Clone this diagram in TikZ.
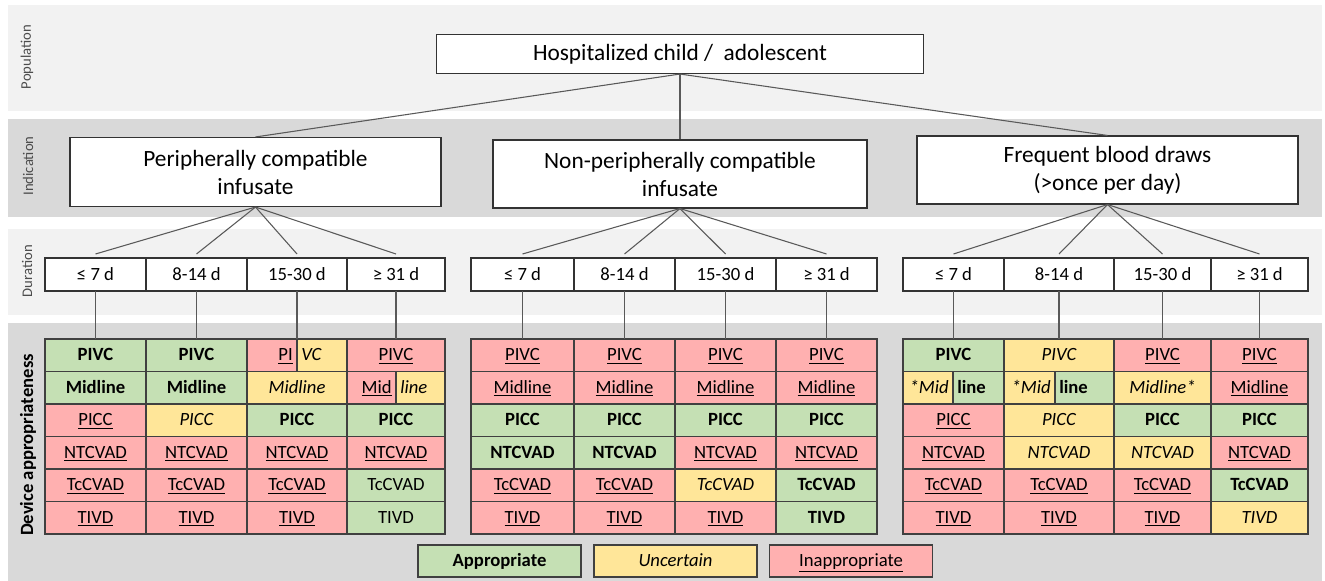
\documentclass[tikz,border=0pt]{standalone}
\usepackage{fontspec}
\setmainfont{Carlito}
\usetikzlibrary{calc}
\definecolor{bandlight}{RGB}{242,242,242}
\definecolor{banddark}{RGB}{217,217,217}
\definecolor{okgreen}{RGB}{197,224,180}
\definecolor{uncyellow}{RGB}{255,230,153}
\definecolor{badpink}{RGB}{255,176,176}
\definecolor{linegray}{RGB}{89,89,89}
\definecolor{gridline}{RGB}{64,64,64}
\newcommand\fmtgood[1]{#1}
\newcommand\fmtplain[1]{#1}
\newcommand\fmtunc[1]{#1}
\newcommand\fmtbad[1]{\underline{#1}}
\newcommand\fmtsplit[1]{}
% one cell of the appropriateness grid: name, left x, right x, row, kind, text
\newcommand\devcell[6]{%
  \pgfmathsetmacro\cx{(#2+#3)/2}%
  \pgfmathsetmacro\cy{339+(#4-0.5)*32.5}%
  \pgfmathsetmacro\cw{#3-#2}%
  \node[cell, cellw=\cw, #5] (#1) at (\cx,\cy) {\csname fmt#5\endcsname{#6}};}

\begin{document}
\begin{tikzpicture}[x=0.75pt, y=-0.75pt,
    box/.style={draw=black!80, fill=white, line width=0.8pt, align=center, inner sep=0pt, font=\fontsize{17.5}{21}\selectfont},
    durbox/.style={draw=black!80, fill=white, line width=0.8pt, inner sep=0pt, outer sep=0pt, minimum height=33*0.75pt, font=\fontsize{14}{16}\selectfont},
    cell/.style={draw=gridline, line width=0.8pt, inner sep=0pt, outer sep=0pt, minimum height=32.5*0.75pt, text height=12pt, text depth=3.5pt, font=\fontsize{14}{16}\selectfont},
    cellw/.style={minimum width=#1*0.75pt},
    good/.style={fill=okgreen, font=\fontsize{14}{16}\selectfont\bfseries},
    plain/.style={fill=okgreen},
    unc/.style={fill=uncyellow, font=\fontsize{14}{16}\selectfont\itshape},
    bad/.style={fill=badpink},
    split/.style={draw=none},
    half/.style={inner xsep=3pt, inner ysep=0pt, text height=12pt, text depth=3.5pt, font=\fontsize{14}{16}\selectfont},
    link/.style={draw=linegray, line width=0.8pt},
    sidelab/.style={rotate=90, text=black!70, font=\fontsize{11}{13}\selectfont}]
  \useasboundingbox (0,0) rectangle (1325,581);

  % bands
  \fill[bandlight] (8,5) rectangle (1322,111);
  \fill[banddark] (8,119) rectangle (1322,217);
  \fill[bandlight] (8,229) rectangle (1322,315);
  \fill[banddark] (8,323) rectangle (1322,581);

  \node[sidelab] (popl) at (27,57) {Population};
  \node[sidelab] (indl) at (28,166) {Indication};
  \node[sidelab] (durl) at (27,271) {Duration};
  \node[rotate=90, font=\fontsize{14}{16}\selectfont\bfseries] (devl) at (28,445) {Device appropriateness};

  % population and indication
  \node[box, minimum width=487*0.75pt, minimum height=39*0.75pt] (pop) at (680,54) {Hospitalized child /\ \ adolescent};
  \node[box, minimum width=371*0.75pt, minimum height=69*0.75pt] (ind1) at (255.5,172) {Peripherally compatible\\infusate};
  \node[box, minimum width=374*0.75pt, minimum height=68*0.75pt] (ind2) at (680,174) {Non-peripherally compatible\\infusate};
  \node[box, minimum width=381*0.75pt, minimum height=68*0.75pt] (ind3) at (1107.5,170) {Frequent blood draws\\(>once per day)};
  \draw[link] (pop.south) -- (ind1.north);
  \draw[link] (pop.south) -- (ind2.north);
  \draw[link] (pop.south) -- (ind3.north);

  % duration
  \foreach \g/\n/\xa/\xb/\xc/\xd/\xe in {L/1/45/146/247/347/445, M/2/471/574/675/776/877, R/3/903/1004/1114/1211/1308} {
    \foreach \c/\l/\r/\t in {1/\xa/\xb/{≤ 7 d}, 2/\xb/\xc/{8-14 d}, 3/\xc/\xd/{15-30 d}, 4/\xd/\xe/{≥ 31 d}} {
      \pgfmathsetmacro\xm{(\l+\r)/2}
      \pgfmathsetmacro\w{\r-\l}
      \node[durbox, minimum width=\w*0.75pt] (d\g\c) at (\xm,274.5) {\t};
      \draw[link] (ind\n.south) -- ($(d\g\c.north)+(0,-4)$);
    }
  }

  % appropriateness grids
  \foreach \r/\ka/\ta/\kb/\tb/\kc/\tc/\kd/\td in {
      1/good/PIVC/good/PIVC/split/PIVC/bad/PIVC,
      2/good/Midline/good/Midline/unc/Midline/split/Midline,
      3/bad/PICC/unc/PICC/good/PICC/good/PICC,
      4/bad/NTCVAD/bad/NTCVAD/bad/NTCVAD/bad/NTCVAD,
      5/bad/TcCVAD/bad/TcCVAD/bad/TcCVAD/plain/TcCVAD,
      6/bad/TIVD/bad/TIVD/bad/TIVD/plain/TIVD} {
    \devcell{L\r1}{45}{146}{\r}{\ka}{\ta}
    \devcell{L\r2}{146}{247}{\r}{\kb}{\tb}
    \devcell{L\r3}{247}{347}{\r}{\kc}{\tc}
    \devcell{L\r4}{347}{445}{\r}{\kd}{\td}
  }
  \foreach \r/\ka/\ta/\kb/\tb/\kc/\tc/\kd/\td in {
      1/bad/PIVC/bad/PIVC/bad/PIVC/bad/PIVC,
      2/bad/Midline/bad/Midline/bad/Midline/bad/Midline,
      3/good/PICC/good/PICC/good/PICC/good/PICC,
      4/good/NTCVAD/good/NTCVAD/bad/NTCVAD/bad/NTCVAD,
      5/bad/TcCVAD/bad/TcCVAD/unc/TcCVAD/good/TcCVAD,
      6/bad/TIVD/bad/TIVD/bad/TIVD/good/TIVD} {
    \devcell{M\r1}{471}{574}{\r}{\ka}{\ta}
    \devcell{M\r2}{574}{675}{\r}{\kb}{\tb}
    \devcell{M\r3}{675}{776}{\r}{\kc}{\tc}
    \devcell{M\r4}{776}{877}{\r}{\kd}{\td}
  }
  \foreach \r/\ka/\ta/\kb/\tb/\kc/\tc/\kd/\td in {
      1/good/PIVC/unc/PIVC/bad/PIVC/bad/PIVC,
      2/split/Midline/split/Midline/unc/Midline*/bad/Midline,
      3/bad/PICC/unc/PICC/good/PICC/good/PICC,
      4/bad/NTCVAD/unc/NTCVAD/unc/NTCVAD/bad/NTCVAD,
      5/bad/TcCVAD/bad/TcCVAD/bad/TcCVAD/good/TcCVAD,
      6/bad/TIVD/bad/TIVD/bad/TIVD/unc/TIVD} {
    \devcell{R\r1}{903}{1004}{\r}{\ka}{\ta}
    \devcell{R\r2}{1004}{1114}{\r}{\kb}{\tb}
    \devcell{R\r3}{1114}{1211}{\r}{\kc}{\tc}
    \devcell{R\r4}{1211}{1308}{\r}{\kd}{\td}
  }

  % split cells
  \node[cell, bad, cellw=50, anchor=west] (L13a) at (L13.west) {};
  \node[cell, unc, cellw=50, anchor=east] (L13b) at (L13.east) {};
  \node[half, anchor=east] (pi) at (L13a.east) {\underline{PI}};
  \node[half, anchor=west, font=\fontsize{14}{16}\selectfont\itshape] (vc) at (L13b.west) {VC};
  \node[cell, bad, cellw=49, anchor=west] (L24a) at (L24.west) {};
  \node[cell, unc, cellw=49, anchor=east] (L24b) at (L24.east) {};
  \node[half, anchor=east] (mid) at (L24a.east) {\underline{Mid}};
  \node[half, anchor=west, font=\fontsize{14}{16}\selectfont\itshape] (line) at (L24b.west) {line};
  \node[cell, unc, cellw=50, anchor=west] (R21a) at (R21.west) {};
  \node[cell, good, cellw=51, anchor=east] (R21b) at (R21.east) {};
  \node[half, anchor=east, font=\fontsize{14}{16}\selectfont\itshape] (midx) at (R21a.east) {*Mid};
  \node[half, anchor=west, font=\fontsize{14}{16}\selectfont\bfseries] (linex) at (R21b.west) {line};
  \node[cell, unc, cellw=51, anchor=west] (R22a) at (R22.west) {};
  \node[cell, good, cellw=59, anchor=east] (R22b) at (R22.east) {};
  \node[half, anchor=east, font=\fontsize{14}{16}\selectfont\itshape] (midy) at (R22a.east) {*Mid};
  \node[half, anchor=west, font=\fontsize{14}{16}\selectfont\bfseries] (liney) at (R22b.west) {line};

  % duration to grid
  \foreach \g in {L,M,R} {
    \foreach \c in {1,2,3,4} {
      \draw[link] (d\g\c.south) -- (\g1\c.north);
    }
  }

  % legend
  \node[cell, good, cellw=163, minimum height=32*0.75pt] (lgok) at (499.5,561) {Appropriate};
  \node[cell, unc, cellw=163, minimum height=32*0.75pt] (lgunc) at (675.5,561) {Uncertain};
  \node[cell, bad, cellw=163, minimum height=32*0.75pt] (lgbad) at (851,561) {\underline{Inappropriate}};
\end{tikzpicture}
\end{document}
